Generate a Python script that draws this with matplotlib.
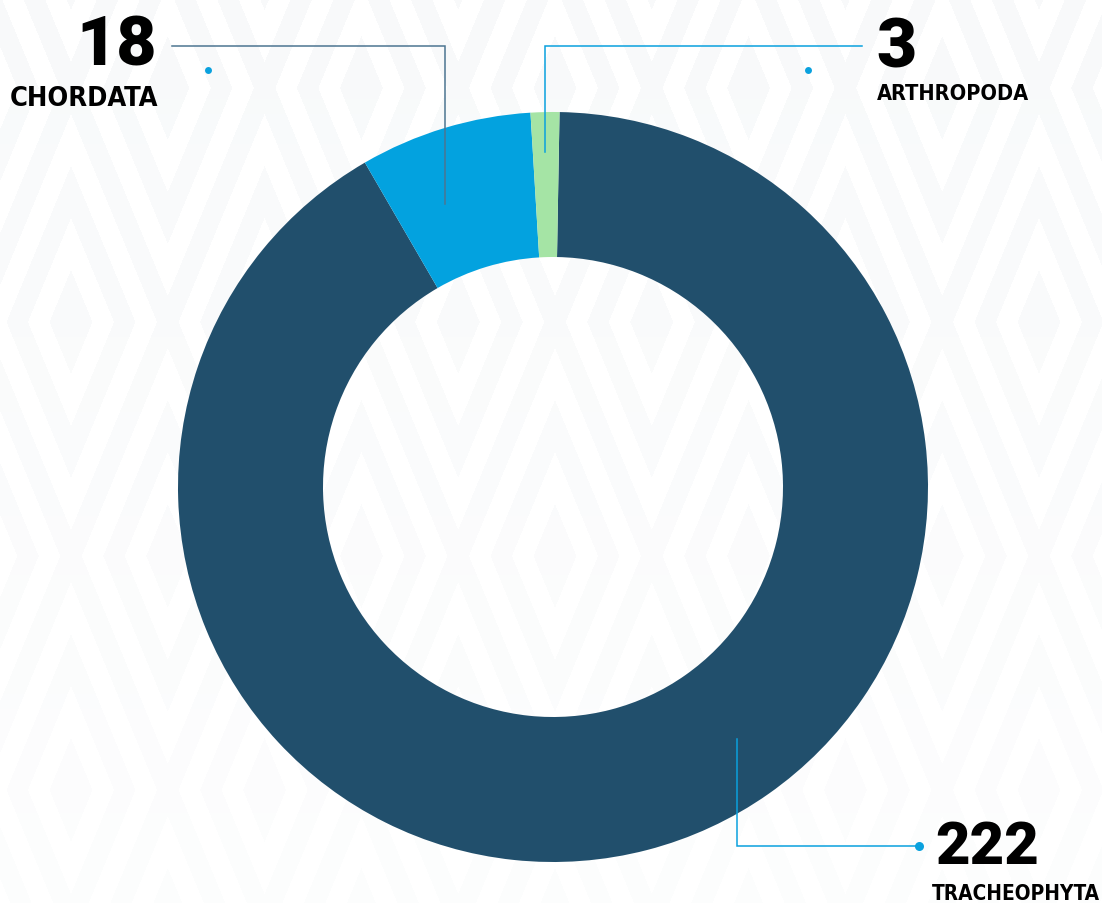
import numpy as np
import matplotlib
matplotlib.use("Agg")
import matplotlib.pyplot as plt
from matplotlib import font_manager

# data
phyla = ["TRACHEOPHYTA", "CHORDATA", "ARTHROPODA"]
counts = [222, 18, 3]
colors = ["#214f6c", "#03a2df", "#a5e4a5"]

W, H = 1102, 904
NUM_FONT = ["Roboto", "DejaVu Sans"]


def pick_label_font():
    """bold condensed/narrow face if installed, else plain bold sans"""
    narrow = ("condensed", "semi-condensed", "extra-condensed", "ultra-condensed")
    for f in font_manager.fontManager.ttflist:
        w = f.weight if isinstance(f.weight, int) else 700 if "bold" in str(f.weight) else 400
        cond = f.stretch in narrow or "Narrow" in f.name or "Condensed" in f.name \
            or "Condensed" in f.fname or "Narrow" in f.fname
        if cond and w >= 600:
            return dict(fontproperties=font_manager.FontProperties(fname=f.fname))
    return dict(family=["Liberation Sans", "DejaVu Sans"], fontweight="bold")


LAB = pick_label_font()


def px(x, y):
    """top-left pixel position -> data coords (y up)"""
    return x, H - y


def diamond_background():
    yy, xx = np.mgrid[0:H, 0:W] + 0.5
    ux, uy = 96.8 / 4.5, 234 / 4.5
    dxa = (xx - 71 + 96.8) % 193.6 - 96.8
    dya = (yy - 323 + 234) % 468 - 234
    dxb = (xx - 167.8 + 96.8) % 193.6 - 96.8
    dyb = (yy - 89 + 234) % 468 - 234
    r = np.minimum(np.abs(dxa) / ux + np.abs(dya) / uy,
                   np.abs(dxb) / ux + np.abs(dyb) / uy)
    light = (r < 1) | ((r >= 2) & (r < 3)) | (r >= 4)
    fade = np.linspace(1.0, 0.3, H)[:, None]
    img = np.ones((H, W, 4))
    img[..., 0], img[..., 1], img[..., 2] = 0.925, 0.940, 0.952
    img[..., 3] = light * fade * 0.34
    return img


fig = plt.figure(figsize=(W / 100, H / 100), dpi=100)
fig.patch.set_facecolor("white")
ax = fig.add_axes([0, 0, 1, 1])
ax.imshow(diamond_background(), extent=(0, W, 0, H), origin="upper",
          zorder=0, interpolation="bilinear")

ax.pie(counts, colors=colors, startangle=89, counterclock=False,
       center=px(553, 488), radius=375,
       wedgeprops=dict(width=145, linewidth=0))

# leader lines: anchor in wedge -> elbow -> end, plus a small dot
leaders = [
    ([px(445, 205), px(445, 47), px(172, 47)], px(208, 71), "#4d7591"),
    ([px(545, 153), px(545, 47), px(862, 47)], px(808, 71), "#0aa1de"),
    ([px(737, 740), px(737, 847), px(919, 847)], None, "#0aa1de"),
]
for pts, dot, c in leaders:
    xs, ys = zip(*pts)
    ax.plot(xs, ys, color=c, lw=1.1, solid_joinstyle="miter", zorder=3)
    if dot is not None:
        ax.plot(*dot, "o", color="#0aa1de", ms=5, mec="none", zorder=3)
ax.plot(*px(919, 847), "o", color="#0aa1de", ms=6.5, mec="none", zorder=3)

# numbers
ax.text(*px(157, 65), str(counts[1]), ha="right", va="baseline",
        fontsize=50, fontweight="black", family=NUM_FONT, color="black")
ax.text(*px(876, 67), str(counts[2]), ha="left", va="baseline",
        fontsize=50, fontweight="black", family=NUM_FONT, color="black")
ax.text(*px(935, 864), str(counts[0]), ha="left", va="baseline",
        fontsize=43, fontweight="black", family=NUM_FONT, color="black")

# names: shrink to about the width they take in the reference
renderer = fig.canvas.get_renderer()
names = [
    (phyla[1], px(158, 106), "right", 21, 148),
    (phyla[2], px(877, 100), "left", 18, 152),
    (phyla[0], px(932, 900), "left", 18, 168),
]
for s, (x, y), ha, size, width in names:
    t = ax.text(x, y, s, ha=ha, va="baseline", fontsize=size,
                color="black", **LAB)
    w = t.get_window_extent(renderer).width
    if w > width:
        t.set_fontsize(size * width / w)

ax.set_xlim(0, W)
ax.set_ylim(0, H)
ax.set_aspect("auto")
ax.axis("off")

fig.savefig("out.png", dpi=100, facecolor="white")
